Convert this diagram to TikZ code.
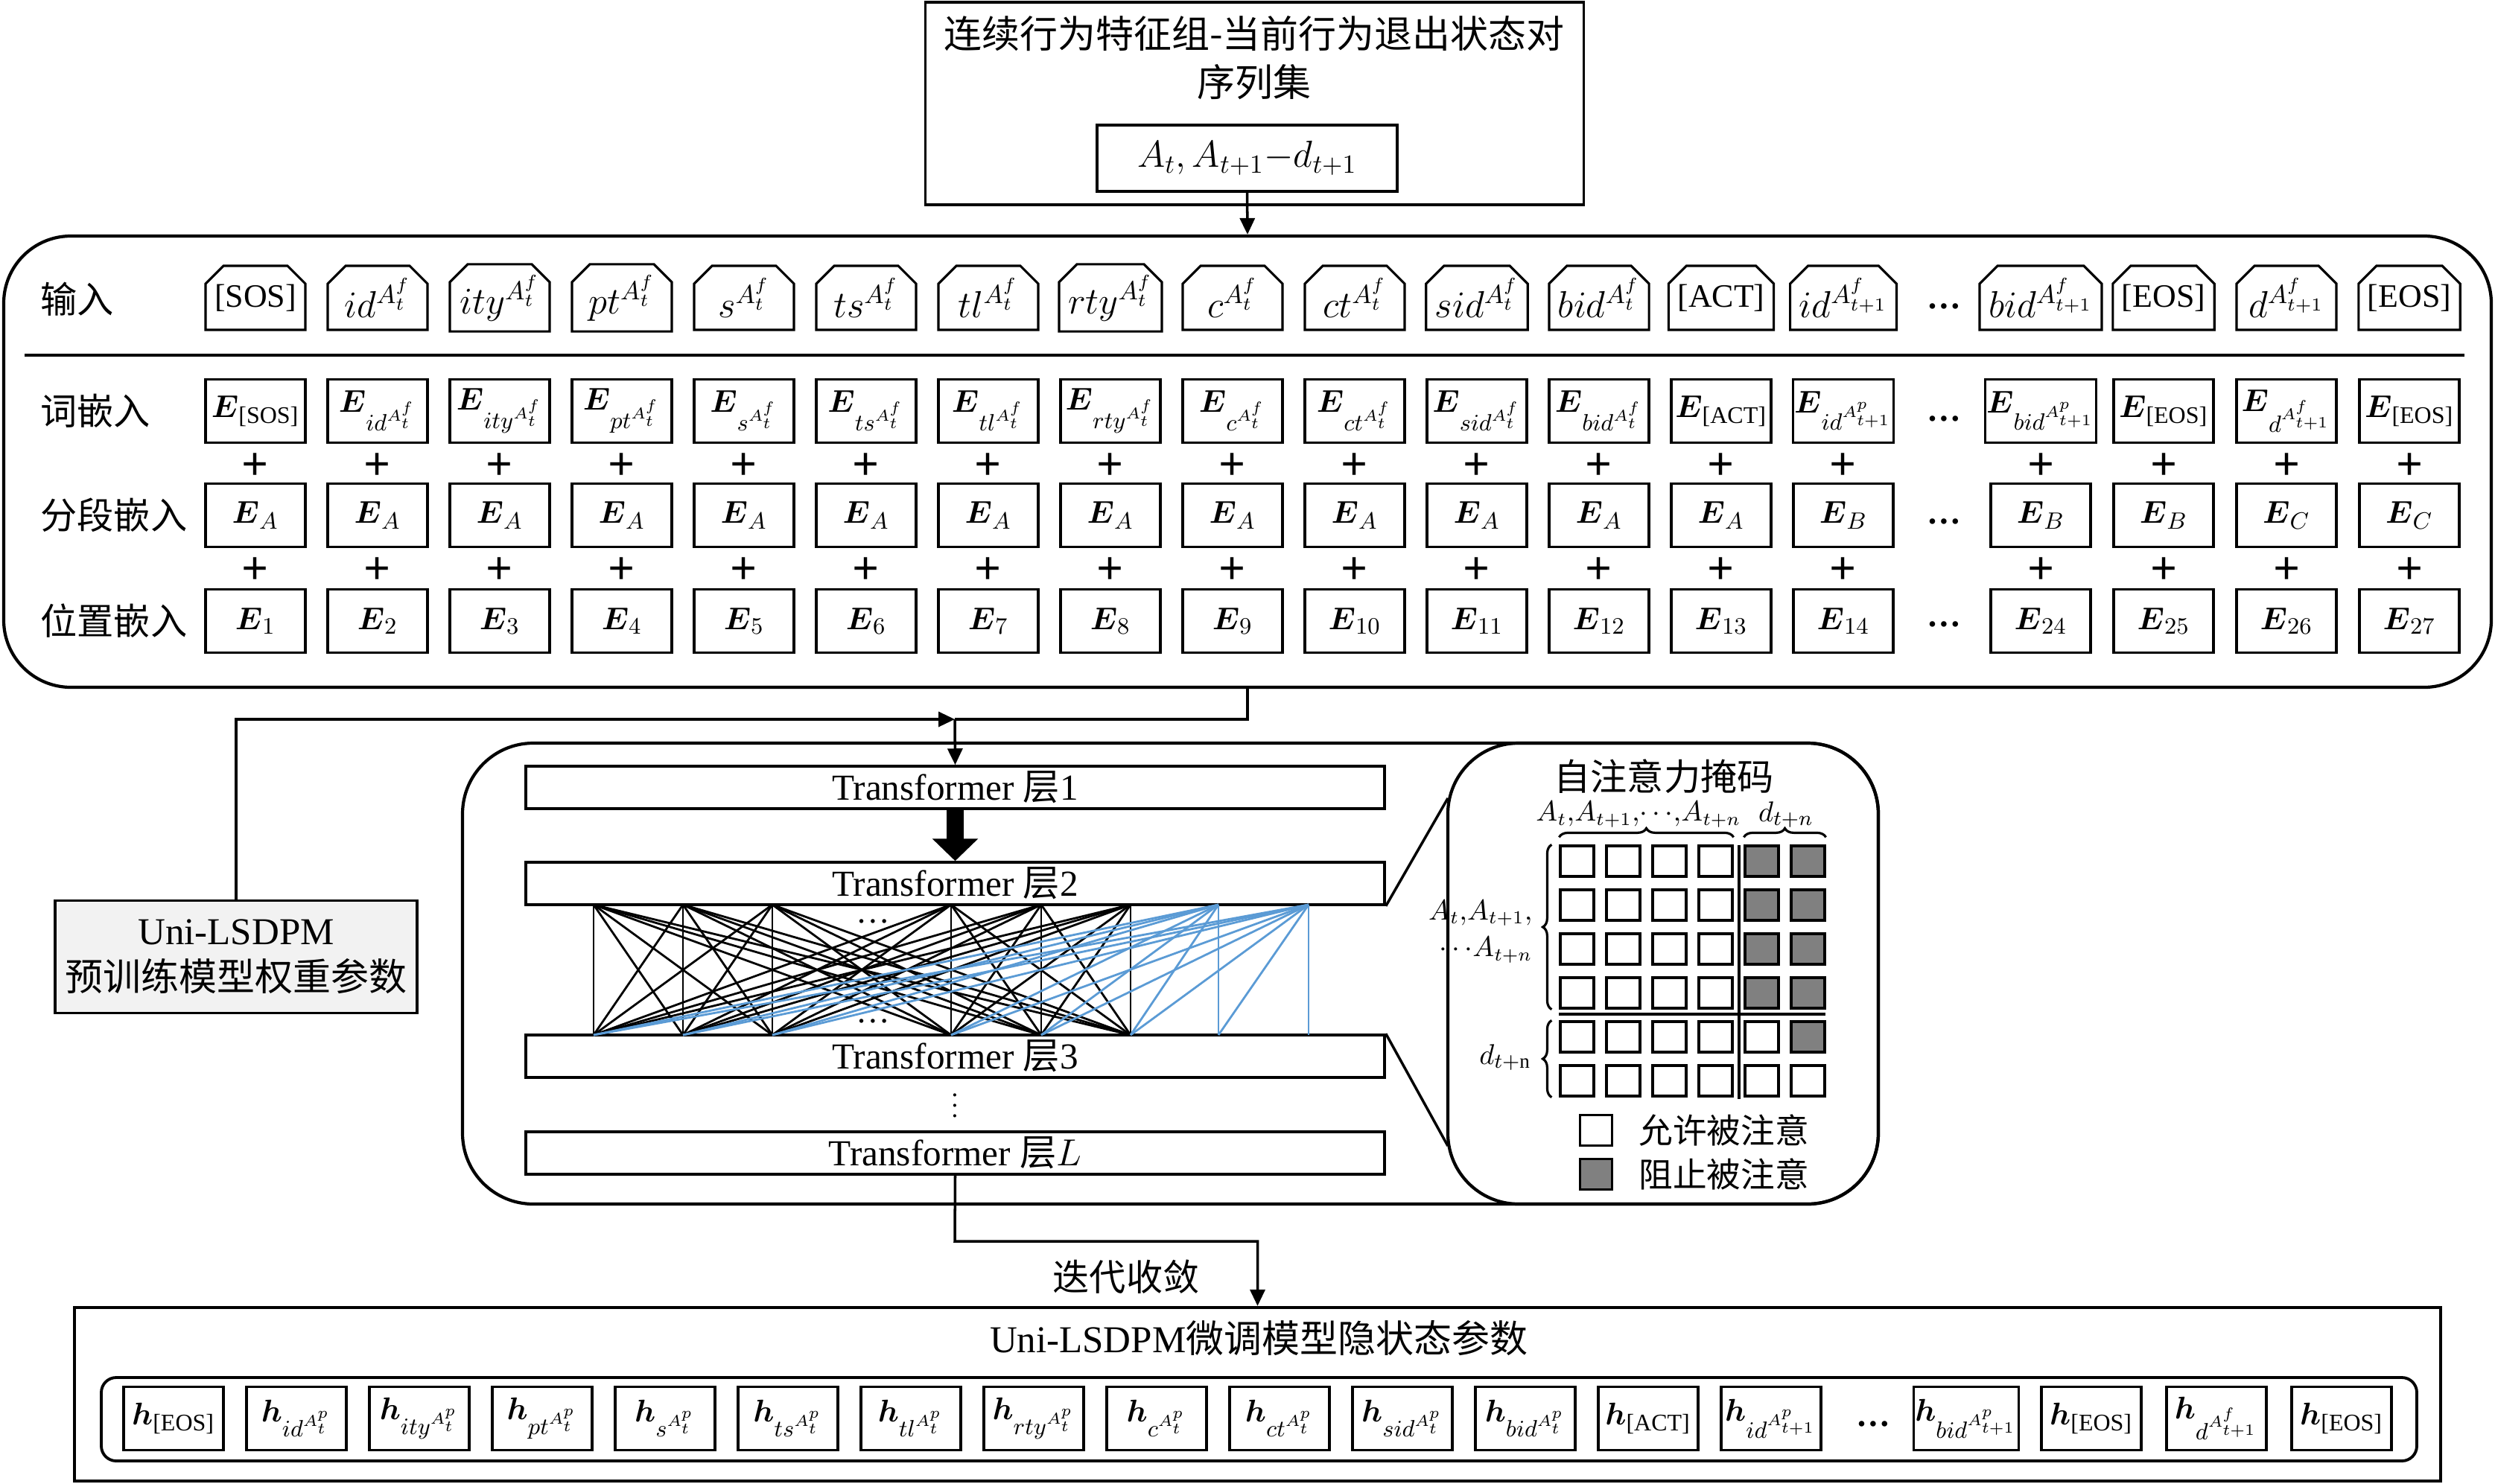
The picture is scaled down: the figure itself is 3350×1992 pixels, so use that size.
\documentclass[tikz,border=0pt]{standalone}
\usepackage{amsmath}
\usepackage{fontspec}
\setmainfont{Liberation Serif}
\newfontfamily\zh{Noto Sans CJK SC}
\usetikzlibrary{arrows.meta, positioning, calc, shapes.misc, decorations.pathreplacing}

\definecolor{linkblue}{RGB}{91,155,213}
\definecolor{boxgray}{RGB}{242,242,242}

\newcommand{\tg}[1]{{\fontsize{12.5}{15}\selectfont #1}}

\tikzset{
  tok/.style={draw, line width=0.9pt, chamfered rectangle, chamfered rectangle corners={north west,north east},
    chamfered rectangle xsep=1.1mm, chamfered rectangle ysep=1.3mm, minimum width=13.4mm, minimum height=8.6mm, inner sep=0.3pt,
    font=\fontsize{14}{16}\selectfont},
  emb/.style={draw, line width=0.9pt, minimum width=13.4mm, minimum height=8.5mm, inner sep=0.5pt},
  tflayer/.style={draw, line width=1pt, minimum width=115.3mm, minimum height=5.7mm, inner sep=0pt, font=\fontsize{14}{16}\selectfont},
  cell/.style={draw, line width=0.9pt, minimum width=4.5mm, minimum height=4.1mm, inner sep=0pt},
  lbl/.style={font=\zh\fontsize{14}{17}\selectfont},
  plussign/.style={font=\fontsize{18}{18}\selectfont\bfseries, inner sep=0pt},
  arr/.style={line width=1pt, -{Triangle[length=2.2mm,width=2mm]}},
  link/.style={line width=0.8pt},
  brc/.style={decorate, decoration={brace, amplitude=1.2mm}, line width=0.9pt},
}

\begin{document}
\begin{tikzpicture}[x=0.1mm, y=-0.1mm, font=\fontsize{13}{15}\selectfont]
\useasboundingbox (0,0) rectangle (3350,1992);

% input sequence set
\node[draw, line width=1pt, minimum width=88.4mm, minimum height=27.2mm] (seqset) at (1684.5,139) {};
\node[font=\zh\fontsize{14.5}{18.5}\selectfont, align=center] (seqtitle) at (1684,78) {连续行为特征组-当前行为退出状态对\\序列集};
\node[draw, line width=1pt, minimum width=40.3mm, minimum height=8.9mm, font=\fontsize{14}{16}\selectfont] (pair) at (1674.5,212.5) {$A_t, A_{t+1}{-}d_{t+1}$};

% embedding block
\node[draw, line width=1.2pt, rounded corners=9mm, minimum width=334mm, minimum height=60.6mm] (embbox) at (1675,620) {};
\draw[arr] (pair.south) -- (embbox.north);
\draw[line width=1.1pt] (33,477) -- (3309,477);

\node[lbl, anchor=west] (rin) at (42,402) {输入};
\node[lbl, anchor=west] (rwe) at (42,552) {词嵌入};
\node[lbl, anchor=west] (rse) at (42,692) {分段嵌入};
\node[lbl, anchor=west] (rpe) at (42,834) {位置嵌入};

\foreach \t [count=\i from 0] in {{\tg{[SOS]}}, {$id^{A_t^f}$}, {$ity^{A_t^f}$}, {$pt^{A_t^f}$}, {$s^{A_t^f}$}, {$ts^{A_t^f}$},
    {$tl^{A_t^f}$}, {$rty^{A_t^f}$}, {$c^{A_t^f}$}, {$ct^{A_t^f}$}, {$sid^{A_t^f}$}, {$bid^{A_t^f}$}, {\tg{[ACT]}},
    {$id^{A_{t+1}^f}$}, {$bid^{A_{t+1}^f}$}, {\tg{[EOS]}}, {$d^{A_{t+1}^f}$}, {\tg{[EOS]}}} {
  \pgfmathsetmacro{\x}{\i<14 ? 343+164*\i : 2740+165*(\i-14)}
  \node[tok] (in\i) at (\x,400) {\t};
}
\foreach \t [count=\i from 0] in {{\text{[SOS]}}, {id^{A_t^f}}, {ity^{A_t^f}}, {pt^{A_t^f}}, {s^{A_t^f}}, {ts^{A_t^f}},
    {tl^{A_t^f}}, {rty^{A_t^f}}, {c^{A_t^f}}, {ct^{A_t^f}}, {sid^{A_t^f}}, {bid^{A_t^f}}, {\text{[ACT]}},
    {id^{A_{t+1}^p}}, {bid^{A_{t+1}^p}}, {\text{[EOS]}}, {d^{A_{t+1}^f}}, {\text{[EOS]}}} {
  \pgfmathsetmacro{\x}{\i<14 ? 343+164*\i : 2740+165*(\i-14)}
  \node[emb] (we\i) at (\x,552) {$\boldsymbol{E}_{\t}$};
  \node[plussign] (pa\i) at (\x,627) {+};
}
\foreach \t [count=\i from 0] in {A,A,A,A,A,A,A,A,A,A,A,A,A,B,B,B,C,C} {
  \pgfmathsetmacro{\x}{\i<14 ? 343+164*\i : 2740+165*(\i-14)}
  \node[emb] (se\i) at (\x,692) {$\boldsymbol{E}_{\t}$};
  \node[plussign] (pb\i) at (\x,767) {+};
}
\foreach \t [count=\i from 0] in {1,...,14,24,25,26,27} {
  \pgfmathsetmacro{\x}{\i<14 ? 343+164*\i : 2740+165*(\i-14)}
  \node[emb] (pe\i) at (\x,834) {$\boldsymbol{E}_{\t}$};
}
\foreach \y [count=\k] in {411,562,700,838}
  \node (edots\k) at (2610,\y) {\bfseries\dots};

% pretrained weights
\node[draw, fill=boxgray, line width=1pt, minimum width=48.6mm, minimum height=15.1mm, align=center,
  font=\fontsize{14.5}{17.6}\selectfont] (pretrain) at (317,1285) {Uni-LSDPM\\{\zh 预训练模型权重参数}};

% transformer block
\node[draw, line width=1.2pt, rounded corners=9.5mm, minimum width=190.1mm, minimum height=61.9mm] (tfbox) at (1571.5,1307.5) {};
\node[draw, line width=1.2pt, rounded corners=9.5mm, minimum width=57.8mm, minimum height=61.9mm] (maskbox) at (2233,1307.5) {};

\node[tflayer] (L1) at (1282.5,1057.5) {Transformer {\zh 层}1};
\node[tflayer] (L2) at (1282.5,1186.5) {Transformer {\zh 层}2};
\node[tflayer] (L3) at (1282.5,1418.5) {Transformer {\zh 层}3};
\node[tflayer] (LL) at (1282.5,1548.5) {Transformer {\zh 层}$L$};
\node[font=\fontsize{10}{10}\selectfont, inner sep=0pt] (vd) at (1282,1474) {$\vdots$};

\coordinate (jn) at (1282,966);
\draw[line width=1pt] (embbox.south) |- (jn);
\draw[arr] (pretrain.north) |- (jn);
\draw[arr] (jn) -- (L1.north);
\draw[line width=2.3mm, -{Triangle[length=3mm,width=6mm]}] (L1.south) -- (L2.north);

% links between layer 2 and layer 3
\foreach \x [count=\i] in {797,917,1037,1277,1398,1518,1636,1757} {
  \coordinate (a\i) at (\x,1215);
  \coordinate (b\i) at (\x,1390);
}
\foreach \i in {1,...,6}
  \foreach \j in {1,...,6}
    \draw[link] (a\i) -- (b\j);
\foreach \i in {7,8}
  \foreach \j in {1,...,\i}
    \draw[link, linkblue] (a\i) -- (b\j);
\node[inner sep=0pt] (ndots1) at (1172,1237) {\dots};
\node[inner sep=0pt] (ndots2) at (1172,1371) {\dots};

\coordinate (zt) at (1944,1072);
\coordinate (zb) at (1944,1539);
\draw[line width=1pt] (L2.south east) -- (zt);
\draw[line width=1pt] (L3.north east) -- (zb);

% attention mask
\node[lbl] (masktitle) at (2234,1043) {自注意力掩码};
\foreach \r in {0,...,5}
  \foreach \c in {0,...,5} {
    \pgfmathtruncatemacro{\blk}{(\r<4 && \c>3) || (\r==4 && \c==5)}
    \ifnum\blk=1 \def\cf{gray}\else\def\cf{white}\fi
    \node[cell, fill=\cf] (m\r\c) at (2117.5+62*\c,1156.5+59*\r) {};
  }
\draw[line width=0.9pt] (2335,1135) -- (2335,1476);
\draw[line width=0.9pt] (2093,1362) -- (2451,1362);
\draw[brc] ([yshift=1mm]m00.north west) -- ([yshift=1mm]m03.north east);
\draw[brc] ([yshift=1mm]m04.north west) -- ([yshift=1mm]m05.north east);
\draw[brc] ([xshift=-1mm]m30.south west) -- ([xshift=-1mm]m00.north west);
\draw[brc] ([xshift=-1mm]m50.south west) -- ([xshift=-1mm]m40.north west);
\node[font=\fontsize{10.5}{12}\selectfont] (acols) at (2200,1094) {$A_t,\!A_{t+1},\!\cdots\!,\!A_{t+n}$};
\node[font=\fontsize{11}{13}\selectfont] (dcols) at (2398,1094) {$d_{t+n}$};
\node[font=\fontsize{10.5}{14}\selectfont, align=right, anchor=east] (arows) at (2070,1251) {$A_t,\!A_{t+1},$\\$\cdots\!A_{t+n}$};
\node[font=\fontsize{11}{13}\selectfont, anchor=east] (drows) at (2068,1420) {$d_{t+\mathrm{n}}$};

\node[cell, minimum width=4.3mm] (allow) at (2143,1518) {};
\node[cell, minimum width=4.3mm, fill=gray] (block) at (2143,1577) {};
\node[lbl, font=\zh\fontsize{13}{15}\selectfont, right=2.2mm of allow] (allowtxt) {允许被注意};
\node[lbl, font=\zh\fontsize{13}{15}\selectfont, right=2.2mm of block] (blocktxt) {阻止被注意};

% fine-tuned hidden states
\node[draw, line width=1.2pt, minimum width=317.7mm, minimum height=23.3mm] (hidbox) at (1688.5,1872.5) {};
\coordinate (turn) at (1282,1667);
\draw[arr] (LL.south) -- (turn) -| (hidbox.north);
\node[lbl] (conv) at (1512,1715) {迭代收敛};
\node[font=\fontsize{14.5}{17}\selectfont] (hidtitle) at (1690,1797) {Uni-LSDPM{\zh 微调模型隐状态参数}};
\node[draw, line width=1.1pt, rounded corners=2mm, minimum width=310.9mm, minimum height=11.2mm] (hrow) at (1690.5,1906) {};
\foreach \t [count=\i from 0] in {{\text{[EOS]}}, {id^{A_t^p}}, {ity^{A_t^p}}, {pt^{A_t^p}}, {s^{A_t^p}}, {ts^{A_t^p}},
    {tl^{A_t^p}}, {rty^{A_t^p}}, {c^{A_t^p}}, {ct^{A_t^p}}, {sid^{A_t^p}}, {bid^{A_t^p}}, {\text{[ACT]}},
    {id^{A_{t+1}^p}}, {bid^{A_{t+1}^p}}, {\text{[EOS]}}, {d^{A_{t+1}^f}}, {\text{[EOS]}}} {
  \pgfmathsetmacro{\x}{\i<14 ? 233+165*\i : 2640+168*(\i-14)}
  \node[emb] (h\i) at (\x,1905) {$\boldsymbol{h}_{\t}$};
}
\node (hdots) at (2515,1912) {\bfseries\dots};
\end{tikzpicture}
\end{document}
